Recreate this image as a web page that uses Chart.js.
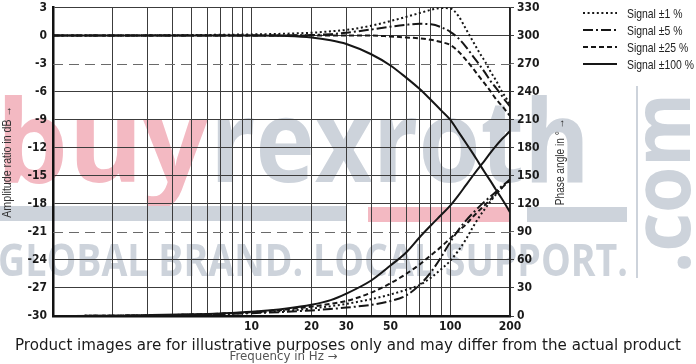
<!DOCTYPE html>
<html><head><meta charset="utf-8">
<script src="https://cdn.jsdelivr.net/npm/chart.js@4"></script>
<style>html,body{margin:0;padding:0;background:#fff;}#wrap{width:696px;height:364px;position:relative;}</style>
</head><body><div id="wrap"><canvas id="c" width="696" height="364"></canvas></div>
<script>
// ---- data ----
const freqHz = [1,2,3,5,7,10,15,20,25,30,40,50,60,70,80,90,100,110,120,130,140,150,160,170,180,190,200];
const ampSignal1   = [0,0,0.02,0.05,0.08,0.12,0.2,0.3,0.45,0.6,1.05,1.55,2.0,2.4,2.75,2.95,2.9,2.1,0.7,-0.6,-1.8,-2.8,-3.9,-4.8,-5.8,-6.6,-7.3];
const ampSignal5   = [0,0,0,0,0,0,0.02,0.05,0.15,0.3,0.65,0.95,1.15,1.25,1.2,0.9,0.4,-0.3,-1.2,-2.2,-3.1,-4.0,-4.9,-5.6,-6.3,-7.0,-7.6];
const ampSignal25  = [0,0,0,0,0,0,0,0,0,0,0,-0.1,-0.2,-0.3,-0.45,-0.7,-1.0,-1.7,-2.6,-3.5,-4.4,-5.2,-6.0,-6.8,-7.4,-8.0,-8.6];
const ampSignal100 = [0,0,0,0,0,0,-0.05,-0.2,-0.5,-0.9,-2.0,-3.2,-4.5,-5.7,-6.9,-8.0,-9.0,-10.3,-11.5,-12.6,-13.7,-14.7,-15.6,-16.5,-17.3,-18.1,-18.9];
const phaseSignal1   = [0,0.3,0.7,1.5,2.3,3.5,5.5,8,10.5,13,18,23,28,33,41,50,59,70,82,95,106,115,123,130,136,141,145];
const phaseSignal5   = [0,0.3,0.6,1.2,2,3,4.5,6,7.5,9,12,16,22,33,47,63,79,92,102,110,117,123,128,133,138,142,146];
const phaseSignal25  = [0,0.3,0.7,1.5,2.5,4,7,10,13,16,25,35,45,55,65,74,83,91,98,106,113,119,125,131,136,141,146];
const phaseSignal100 = [0,0.4,0.9,1.8,2.8,4.5,8,12,17,24,38,54,68,84,97,108,118,129,140,150,159,167,175,182,188,193,198];
const seriesLabels = ['Signal ±1 %','Signal ±5 %','Signal ±25 %','Signal ±100 %'];
const xGridValues  = [1,2,3,4,5,6,7,8,9,10,20,30,40,50,60,70,80,90,100,200];
const xLabelValues = [10,20,30,50,100,200];
const dashedDbValues = [-3,-21];
const dashedPhaseValues = [270,90];
const ampTitle = 'Amplitude ratio in dB →';
const phaseTitle = 'Phase angle in ° →';
const freqTitle = 'Frequency in Hz →';
const captionText = 'Product images are for illustrative purposes only and may differ from the actual product';

const styles = [[2,2.6],[10,3,2,3],[5,3],[]];
const ink = '#161616';
const pts = arr => freqHz.map((f,i)=>({x:f,y:arr[i]}));
const ampSets = [ampSignal1,ampSignal5,ampSignal25,ampSignal100];
const phaseSets = [phaseSignal1,phaseSignal5,phaseSignal25,phaseSignal100];
const datasets = [];
ampSets.forEach((a,i)=>datasets.push({label:seriesLabels[i],data:pts(a),yAxisID:'yAmp',borderColor:ink,borderWidth:2,borderDash:styles[i],pointRadius:0,cubicInterpolationMode:'monotone',fill:false}));
phaseSets.forEach((a,i)=>datasets.push({label:seriesLabels[i]+' phase',data:pts(a),yAxisID:'yPhase',borderColor:ink,borderWidth:2,borderDash:styles[i],pointRadius:0,cubicInterpolationMode:'monotone',fill:false}));

const narrow = '"Liberation Sans Narrow","DejaVu Sans Condensed",sans-serif';

function fitText(ctx,txt,x,y,w,font,color,align){
  ctx.font=font; const m=ctx.measureText(txt).width;
  ctx.save(); ctx.translate(x,y); ctx.scale(w/m,1); ctx.fillStyle=color;
  ctx.textAlign='left';
  ctx.fillText(txt,align==='center'?-m/2:0,0); ctx.restore();
}

const watermark = {
  id:'watermark',
  beforeDraw(chart){
    const ctx = chart.ctx;
    ctx.save();
    ctx.fillStyle='#fff'; ctx.fillRect(0,0,chart.width,chart.height);
    ctx.textBaseline='alphabetic';
    const pink='#f3b9c2', gray='#cdd3db';
    fitText(ctx,'buy',-4,182,212,'700 114px "Open Sans"',pink);
    fitText(ctx,'rexroth',210,182,380,'700 114px "Open Sans"',gray);
    ctx.fillStyle=gray; ctx.fillRect(0,206,347,15); ctx.fillRect(527,207,100,15); ctx.fillRect(636,86,2,192);
    ctx.fillStyle=pink; ctx.fillRect(368,207,141,15);
    fitText(ctx,'GLOBAL BRAND. LOCAL SUPPORT.',-2,276,630,'700 44px "Open Sans"',gray);
    ctx.save(); ctx.translate(690,273); ctx.rotate(-Math.PI/2);
    fitText(ctx,'.com',0,0,180,'700 80px "Open Sans"',gray);
    ctx.restore();
    ctx.restore();
  }
};

const overlays = {
  id:'overlays',
  beforeDatasetsDraw(chart){
    const ctx=chart.ctx, a=chart.chartArea, yA=chart.scales.yAmp;
    ctx.save(); ctx.strokeStyle='#6a6a6a'; ctx.lineWidth=1.2; ctx.setLineDash([10,6]);
    dashedDbValues.forEach(v=>{const y=Math.round(yA.getPixelForValue(v))+0.5;ctx.beginPath();ctx.moveTo(a.left,y);ctx.lineTo(a.right+3,y);ctx.stroke();});
    ctx.restore();
  },
  afterDraw(chart){
    const ctx=chart.ctx, a=chart.chartArea;
    ctx.save();
    // legend
    ctx.textBaseline='middle';
    const legendW=[56,56,62,68];
    for(let i=0;i<4;i++){
      const ds=chart.data.datasets[i]; const y=13+17*i;
      ctx.strokeStyle=ink; ctx.lineWidth=2; ctx.setLineDash(ds.borderDash);
      ctx.beginPath(); ctx.moveTo(583,y); ctx.lineTo(617,y); ctx.stroke();
      ctx.setLineDash([]);
      ctx.font='13px "Liberation Sans"'; const m=ctx.measureText(ds.label).width;
      ctx.save(); ctx.translate(627,y+1); ctx.scale(0.8,1); ctx.fillStyle='#222'; ctx.textAlign='left'; ctx.fillText(ds.label,0,0); ctx.restore();
    }
    // axis titles
    const cy=(a.top+a.bottom)/2;
    ctx.textBaseline='middle';
    ctx.save(); ctx.translate(8,cy); ctx.rotate(-Math.PI/2); fitText(ctx,ampTitle,0,0,112,'12px "Liberation Sans"','#333','center'); ctx.restore();
    ctx.save(); ctx.translate(561,cy); ctx.rotate(-Math.PI/2); fitText(ctx,phaseTitle,0,0,87,'12px "Liberation Sans"','#333','center'); ctx.restore();
    ctx.textBaseline='alphabetic';
    fitText(ctx,freqTitle,(a.left+a.right)/2+2,360,108,'12px "DejaVu Sans"','#555','center');
    // caption
    fitText(ctx,captionText,15,350,666,'16px "DejaVu Sans"','#1a1a1a');
    ctx.restore();
  }
};

new Chart(document.getElementById('c'),{
  type:'line',
  data:{datasets},
  options:{
    responsive:false, animation:false, devicePixelRatio:1,
    layout:{padding:{top:7.5,left:0,right:0,bottom:0}},
    plugins:{legend:{display:false},tooltip:{enabled:false}},
    scales:{
      x:{type:'logarithmic',min:1,max:200,position:'bottom',
        afterBuildTicks:s=>{s.ticks=xGridValues.map(v=>({value:v}));},
        afterFit:s=>{s.height=48;s.paddingLeft=0;s.paddingRight=0;},
        ticks:{autoSkip:false,maxRotation:0,padding:4,color:'#1a1a1a',font:{family:narrow,size:12,weight:'bold'},
          callback:v=>xLabelValues.includes(v)?String(v):''},
        grid:{color:'#3c3c3c',lineWidth:1,drawTicks:false},
        border:{display:true,color:'#111',width:2.5}},
      yAmp:{type:'linear',position:'left',min:-30,max:3,
        afterFit:s=>{s.width=53;s.paddingTop=0;s.paddingBottom=0;},
        ticks:{stepSize:3,padding:6,color:'#1a1a1a',font:{family:narrow,size:12,weight:'bold'}},
        grid:{drawTicks:false,lineWidth:1,color:c=>dashedDbValues.includes(c.tick.value)?'rgba(0,0,0,0)':'#3c3c3c'},
        border:{display:true,color:'#111',width:2.5}},
      yPhase:{type:'linear',position:'right',min:0,max:330,
        afterFit:s=>{s.width=186;s.paddingTop=0;s.paddingBottom=0;},
        ticks:{stepSize:30,padding:3,color:'#1a1a1a',font:{family:narrow,size:12,weight:'bold'}},
        grid:{drawOnChartArea:false,drawTicks:true,tickLength:4,lineWidth:1,
          tickColor:c=>dashedPhaseValues.includes(c.tick.value)?'#6a6a6a':'#3c3c3c'},
        border:{display:true,color:'#222',width:1.5}}
    }
  },
  plugins:[watermark,overlays]
});
</script></body></html>
